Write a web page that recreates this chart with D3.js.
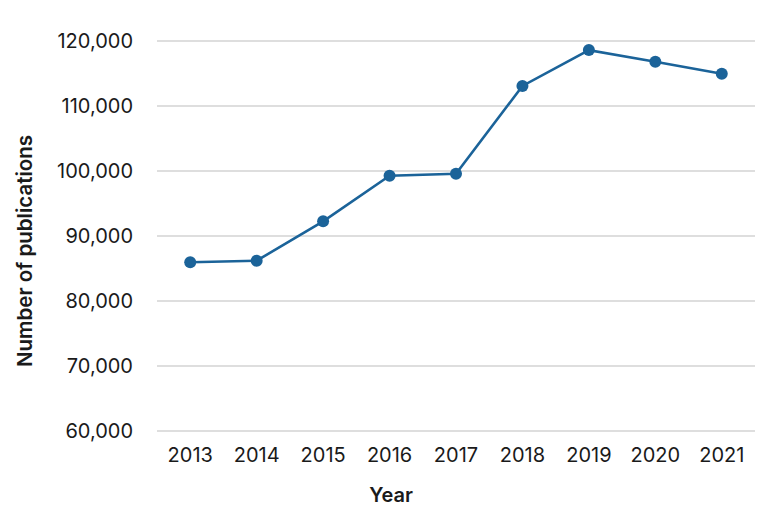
<!DOCTYPE html>
<html>
<head>
<meta charset="utf-8">
<script src="https://cdn.jsdelivr.net/npm/d3@7"></script>
<style>
  html, body { margin: 0; padding: 0; background: #fff; }
  svg text { font-family: Inter, "Liberation Sans", Arial, sans-serif; fill: #1a1a1a; }
</style>
</head>
<body>
<svg id="chart" width="780" height="520"></svg>
<script>
const years = ["2013", "2014", "2015", "2016", "2017", "2018", "2019", "2020", "2021"];
const publications = [85950, 86200, 92260, 99280, 99580, 113080, 118600, 116800, 114970];
const yTicks = [60000, 70000, 80000, 90000, 100000, 110000, 120000];
const xTitle = "Year";
const yTitle = "Number of publications";

const svg = d3.select("#chart");
const margin = { left: 157, right: 25, top: 41, bottom: 89 };
const W = 780, H = 520;
const FONT = "Inter, 'Liberation Sans', Arial, sans-serif";

const x = d3.scaleBand().domain(years).range([margin.left, W - margin.right]);
const y = d3.scaleLinear().domain([60000, 120000]).range([H - margin.bottom, margin.top]);

// gridlines
svg.append("g")
  .selectAll("line")
  .data(yTicks)
  .join("line")
  .attr("x1", margin.left)
  .attr("x2", W - margin.right)
  .attr("y1", d => y(d))
  .attr("y2", d => y(d))
  .attr("stroke", "#d3d3d3")
  .attr("stroke-width", 1.5);

// y axis labels
const fmt = d3.format(",");
const yAxis = d3.axisLeft(y).tickValues(yTicks).tickFormat(fmt).tickSize(0).tickPadding(24);
const gy = svg.append("g").attr("transform", `translate(${margin.left},0)`).call(yAxis);
gy.select(".domain").remove();
gy.selectAll("text").attr("font-size", 20).attr("fill", "#1a1a1a").attr("font-family", FONT);

// x axis labels
const xAxis = d3.axisBottom(x).tickSize(0).tickPadding(17);
const gx = svg.append("g").attr("transform", `translate(0,${H - margin.bottom})`).call(xAxis);
gx.select(".domain").remove();
gx.selectAll("text").attr("font-size", 20).attr("fill", "#1a1a1a").attr("font-family", FONT);

// line
const data = years.map((yr, i) => ({ yr, v: publications[i] }));
const line = d3.line().x(d => x(d.yr) + x.bandwidth() / 2).y(d => y(d.v));
svg.append("path")
  .datum(data)
  .attr("d", line)
  .attr("fill", "none")
  .attr("stroke", "#1b6399")
  .attr("stroke-width", 2.6);

svg.append("g")
  .selectAll("circle")
  .data(data)
  .join("circle")
  .attr("cx", d => x(d.yr) + x.bandwidth() / 2)
  .attr("cy", d => y(d.v))
  .attr("r", 6)
  .attr("fill", "#1b6399");

// axis titles
svg.append("text")
  .attr("x", 391)
  .attr("y", 502)
  .attr("text-anchor", "middle")
  .attr("font-size", 20)
  .attr("font-weight", 600)
  .text(xTitle);

svg.append("text")
  .attr("transform", `translate(32,251) rotate(-90)`)
  .attr("text-anchor", "middle")
  .attr("font-size", 20.5)
  .attr("font-weight", 600)
  .text(yTitle);
</script>
</body>
</html>
